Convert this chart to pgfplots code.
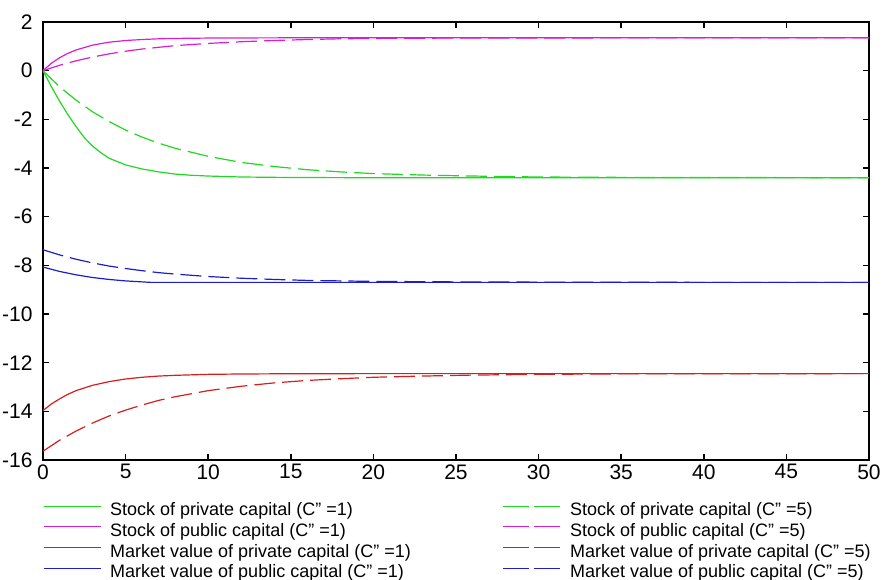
\documentclass[border=0pt]{standalone}
\usepackage{fontspec}
\setmainfont{Liberation Sans}
\usepackage{pgfplots}
\pgfplotsset{compat=1.18}
\definecolor{cgreen}{RGB}{34,215,34}
\definecolor{cmag}{RGB}{215,30,215}
\definecolor{cred}{RGB}{215,30,30}
\definecolor{cblue}{RGB}{30,30,200}
\begin{document}
\begin{tikzpicture}
\begin{axis}[
  scale only axis, width=413pt, height=219pt,
  xmin=0, xmax=50, ymin=-16, ymax=2,
  xtick={0,5,...,50}, ytick={-16,-14,...,2},
  tick align=inside, major tick length=3pt,
  axis line style={line width=0.8pt},
  every tick/.style={black, line width=0.8pt},
  tick label style={font=\fontsize{10.5}{12}\selectfont},
  /pgf/number format/assume math mode=true,
  xticklabel style={inner sep=0pt, yshift=-2pt, anchor=north},
  yticklabel style={inner sep=0pt, xshift=-5pt, anchor=east},
  legend columns=2, legend cell align=left,
  legend style={at={(0,-0.0954)}, anchor=north west, draw=none, fill=none,
    inner sep=0pt, outer sep=0pt, font=\fontsize{9}{10.5}\selectfont,
    nodes={inner sep=0pt, text height=7pt, text depth=3.35pt},
    /tikz/column 1/.style={column sep=4.5pt},
    /tikz/column 2/.style={column sep=46pt},
    /tikz/column 3/.style={column sep=4.5pt}},
  legend image code/.code={\draw[#1] (0pt,3pt) -- (28.5pt,3pt);},
  every axis plot/.append style={line width=0.6pt},
  dashedleg/.style={dash pattern=on 10.5pt off 3.5pt,
    legend image post style={dash pattern=on 13pt off 2.5pt}},
]
% green solid
\addplot[cgreen] coordinates {(0,0) (0.5,-0.65) (1,-1.25) (1.5,-1.8) (2,-2.3) (2.5,-2.75) (3,-3.1) (3.5,-3.37) (4,-3.6) (5,-3.87) (6,-4.04) (7,-4.16) (8,-4.25) (9,-4.3) (10,-4.33) (12,-4.37) (15,-4.39) (20,-4.4) (50,-4.4)};
\addlegendentry{Stock of private capital (C'' =1)}
% green dashed
\addplot[cgreen, dashedleg] coordinates {(0,0) (1,-0.66) (2,-1.21) (3,-1.69) (4,-2.09) (5,-2.44) (6,-2.73) (7,-2.98) (8,-3.19) (10,-3.52) (12,-3.77) (14,-3.94) (16,-4.07) (18,-4.16) (20,-4.23) (23,-4.29) (26,-4.33) (30,-4.37) (35,-4.385) (40,-4.39) (50,-4.4)};
\addlegendentry{Stock of private capital (C'' =5)}
% magenta solid
\addplot[cmag] coordinates {(0,0) (0.5,0.30) (1,0.53) (1.5,0.71) (2,0.85) (3,1.05) (4,1.17) (5,1.24) (6,1.28) (7,1.31) (8,1.325) (10,1.34) (12,1.345) (15,1.35) (50,1.35)};
\addlegendentry{Stock of public capital (C'' =1)}
% magenta dashed
\addplot[cmag, dashedleg] coordinates {(0,0) (1,0.22) (2,0.405) (3,0.56) (4,0.69) (5,0.80) (6,0.89) (7,0.96) (8,1.03) (10,1.12) (12,1.19) (14,1.24) (16,1.28) (18,1.31) (20,1.325) (25,1.34) (30,1.345) (40,1.35) (50,1.35)};
\addlegendentry{Stock of public capital (C'' =5)}
% red solid
\addplot[cred] coordinates {(0,-13.97) (0.5,-13.70) (1,-13.49) (1.5,-13.30) (2,-13.15) (3,-12.93) (4,-12.78) (5,-12.67) (6,-12.60) (7,-12.55) (8,-12.52) (10,-12.48) (12,-12.465) (15,-12.455) (20,-12.45) (50,-12.45)};
\addlegendentry{Market value of private capital (C'' =1)}
% red dashed
\addplot[cred, dashedleg] coordinates {(0,-15.64) (1,-15.19) (2,-14.81) (3,-14.48) (4,-14.19) (5,-13.95) (6,-13.74) (7,-13.55) (8,-13.40) (10,-13.15) (12,-12.97) (14,-12.83) (16,-12.73) (18,-12.66) (20,-12.60) (23,-12.55) (26,-12.51) (30,-12.48) (35,-12.46) (40,-12.455) (50,-12.45)};
\addlegendentry{Market value of private capital (C'' =5)}
% blue solid
\addplot[cblue] coordinates {(0,-8.07) (1,-8.25) (2,-8.39) (3,-8.5) (4,-8.58) (5,-8.64) (6,-8.68) (6.5,-8.7) (50,-8.7)};
\addlegendentry{Market value of public capital (C'' =1)}
% blue dashed
\addplot[cblue, dashedleg] coordinates {(0,-7.36) (1,-7.57) (2,-7.75) (3,-7.90) (4,-8.03) (5,-8.13) (6,-8.22) (7,-8.30) (8,-8.36) (10,-8.46) (12,-8.53) (14,-8.58) (16,-8.62) (18,-8.64) (20,-8.66) (25,-8.68) (30,-8.69) (40,-8.7) (50,-8.7)};
\addlegendentry{Market value of public capital (C'' =5)}
\end{axis}
\pgfresetboundingbox
\path (-21.5pt,-59.5pt) rectangle (419.5pt,230pt);
\end{tikzpicture}
\end{document}
